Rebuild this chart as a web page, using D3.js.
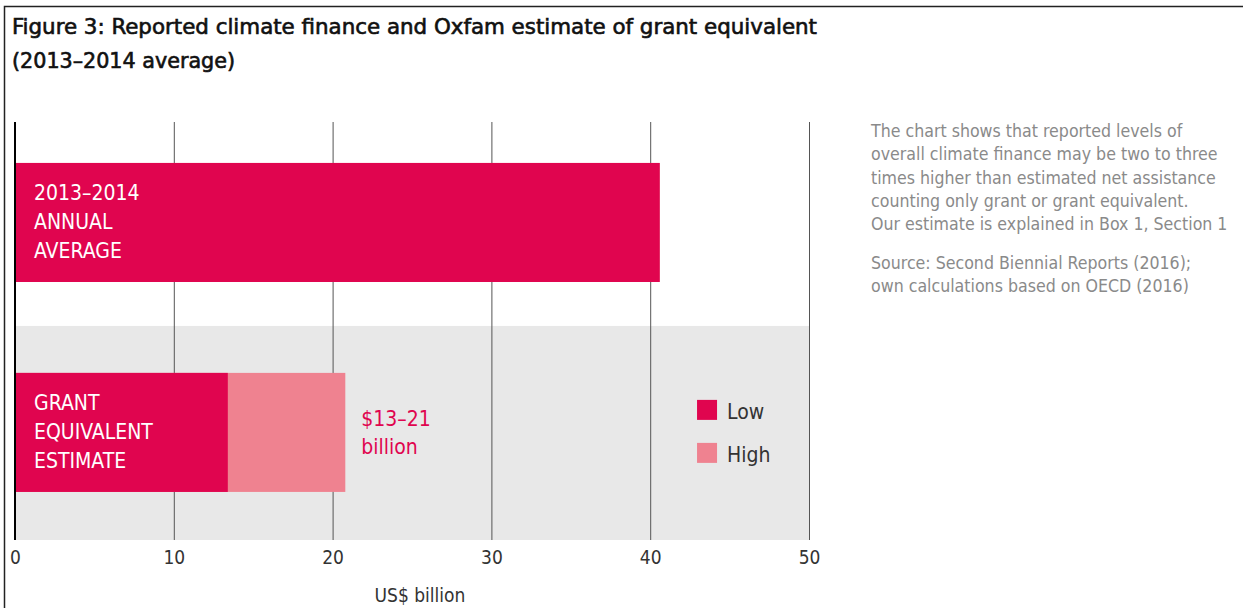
<!DOCTYPE html>
<html>
<head>
<meta charset="utf-8">
<script src="https://cdn.jsdelivr.net/npm/d3@7"></script>
<style>
  body { margin: 0; background: #fff; }
  svg { display: block; font-family: "DejaVu Sans Condensed", "DejaVu Sans", sans-serif; }
</style>
</head>
<body>
<svg id="drawing_region"></svg>
<script>
// chart data
const categories = ["annual", "grant"];
const barLabels = [["2013–2014", "ANNUAL", "AVERAGE"], ["GRANT", "EQUIVALENT", "ESTIMATE"]];
const lowValues = [40.6, 13.4];
const highValues = [40.6, 20.8];
const xTicks = [0, 10, 20, 30, 40, 50];
const seriesNames = ["Low", "High"];
const rangeLabel = ["$13–21", "billion"];
const titleLines = ["Figure 3: Reported climate finance and Oxfam estimate of grant equivalent", "(2013–2014 average)"];
const noteLines = [
    "The chart shows that reported levels of",
    "overall climate finance may be two to three",
    "times higher than estimated net assistance",
    "counting only grant or grant equivalent.",
    "Our estimate is explained in Box 1, Section 1"
];
const sourceLines = ["Source: Second Biennial Reports (2016);", "own calculations based on OECD (2016)"];

const colors = { low: "#e0054f", high: "#ef8290", band: "#e8e8e8", grid: "#555", text: "#333", note: "#8a8a8a" };

const config = {
    width: 1243,
    height: 608,
    margin: { top: 122, right: 434, bottom: 68, left: 15 }
};

const svg = d3.select("#drawing_region")
    .attr("width", config.width)
    .attr("height", config.height);

const inner_width = config.width - config.margin.left - config.margin.right;
const inner_height = config.height - config.margin.top - config.margin.bottom;

// frame
svg.append("path")
    .attr("d", `M4.5,${config.height} V6.5 H${config.width}`)
    .attr("fill", "none")
    .attr("stroke", "#222")
    .attr("stroke-width", 1.5);

// title
svg.selectAll(".title").data(titleLines).join("text")
    .attr("class", "title")
    .attr("x", 12)
    .attr("y", (d, i) => 34 + i * 34)
    .attr("textLength", (d, i) => i === 0 ? 805 : 223)
    .attr("lengthAdjust", "spacingAndGlyphs")
    .style("font-size", "22px")
    .attr("fill", "#111")
    .attr("stroke", "#111")
    .attr("stroke-width", 0.6)
    .text(d => d);

const chart = svg.append("g")
    .attr("transform", `translate(${config.margin.left}, ${config.margin.top})`);

const xscale = d3.scaleLinear()
    .domain([0, 50])
    .range([0, inner_width]);

const yscale = d3.scaleBand()
    .domain(categories)
    .range([0, inner_height])
    .paddingInner(0.433)
    .paddingOuter(0.212)
    .align(0.46);

// grey band behind the estimate bar
const bandTop = (yscale("annual") + yscale.bandwidth() + yscale("grant")) / 2 - 1.5;
chart.append("rect")
    .attr("x", 0)
    .attr("y", bandTop)
    .attr("width", xscale(50))
    .attr("height", inner_height - bandTop)
    .attr("fill", colors.band);

// gridlines
const grid = chart.append("g")
    .attr("transform", `translate(0, ${inner_height})`)
    .call(d3.axisBottom(xscale).tickValues(xTicks.slice(1)).tickSize(-inner_height).tickFormat(""));
grid.select(".domain").remove();
grid.selectAll("line").attr("stroke", colors.grid).attr("stroke-width", 1);

// tick labels
const xaxis_group = chart.append("g")
    .attr("transform", `translate(0, ${inner_height})`)
    .call(d3.axisBottom(xscale).tickValues(xTicks).tickSize(0).tickPadding(11));
xaxis_group.select(".domain").remove();
xaxis_group.selectAll("text")
    .style("font-family", "'DejaVu Sans Condensed', sans-serif")
    .style("font-size", "19px")
    .attr("fill", colors.text);

chart.append("text")
    .attr("x", 405)
    .attr("y", inner_height + 62)
    .attr("text-anchor", "middle")
    .style("font-size", "19px")
    .attr("fill", colors.text)
    .text("US$ billion");

// bars
chart.selectAll(".high").data(categories).join("rect")
    .attr("class", "high")
    .attr("x", 0)
    .attr("y", d => yscale(d))
    .attr("width", (d, i) => xscale(highValues[i]))
    .attr("height", yscale.bandwidth())
    .attr("fill", colors.high);

chart.selectAll(".low").data(categories).join("rect")
    .attr("class", "low")
    .attr("x", 0)
    .attr("y", d => yscale(d))
    .attr("width", (d, i) => xscale(lowValues[i]))
    .attr("height", yscale.bandwidth())
    .attr("fill", colors.low);

// zero axis
chart.append("line")
    .attr("x1", xscale(0)).attr("x2", xscale(0))
    .attr("y1", 0).attr("y2", inner_height)
    .attr("stroke", "#000")
    .attr("stroke-width", 2);

// bar labels
categories.forEach((c, i) => {
    chart.append("text")
        .attr("x", 19)
        .attr("y", yscale(c) + 37)
        .style("font-size", "21px")
        .attr("fill", "#fff")
        .selectAll("tspan").data(barLabels[i]).join("tspan")
        .attr("x", 19)
        .attr("dy", (d, j) => j === 0 ? 0 : 29)
        .text(d => d);
});

// range label
chart.append("text")
    .attr("x", xscale(highValues[1]) + 16)
    .attr("y", yscale("grant") + 53)
    .style("font-size", "21px")
    .attr("fill", colors.low)
    .selectAll("tspan").data(rangeLabel).join("tspan")
    .attr("x", xscale(highValues[1]) + 16)
    .attr("dy", (d, j) => j === 0 ? 0 : 28)
    .text(d => d);

// legend
const legend = chart.append("g")
    .attr("transform", `translate(${xscale(42.95)}, ${yscale("grant") + 27})`);
legend.selectAll("rect").data(seriesNames).join("rect")
    .attr("x", 0)
    .attr("y", (d, i) => i * 43)
    .attr("width", 20)
    .attr("height", 20)
    .attr("fill", (d, i) => i === 0 ? colors.low : colors.high);
legend.selectAll("text").data(seriesNames).join("text")
    .attr("x", 30)
    .attr("y", (d, i) => i * 43 + 19)
    .style("font-size", "21px")
    .attr("fill", colors.text)
    .text(d => d);

// note text
const note = svg.append("g")
    .attr("transform", "translate(871, 137)");
note.selectAll(".note").data(noteLines).join("text")
    .attr("class", "note")
    .attr("x", 0)
    .attr("y", (d, i) => i * 23.3)
    .style("font-size", "17.6px")
    .attr("fill", colors.note)
    .text(d => d);
note.selectAll(".source").data(sourceLines).join("text")
    .attr("class", "source")
    .attr("x", 0)
    .attr("y", (d, i) => 132 + i * 23.3)
    .style("font-size", "17.6px")
    .attr("fill", colors.note)
    .text(d => d);
</script>
</body>
</html>
